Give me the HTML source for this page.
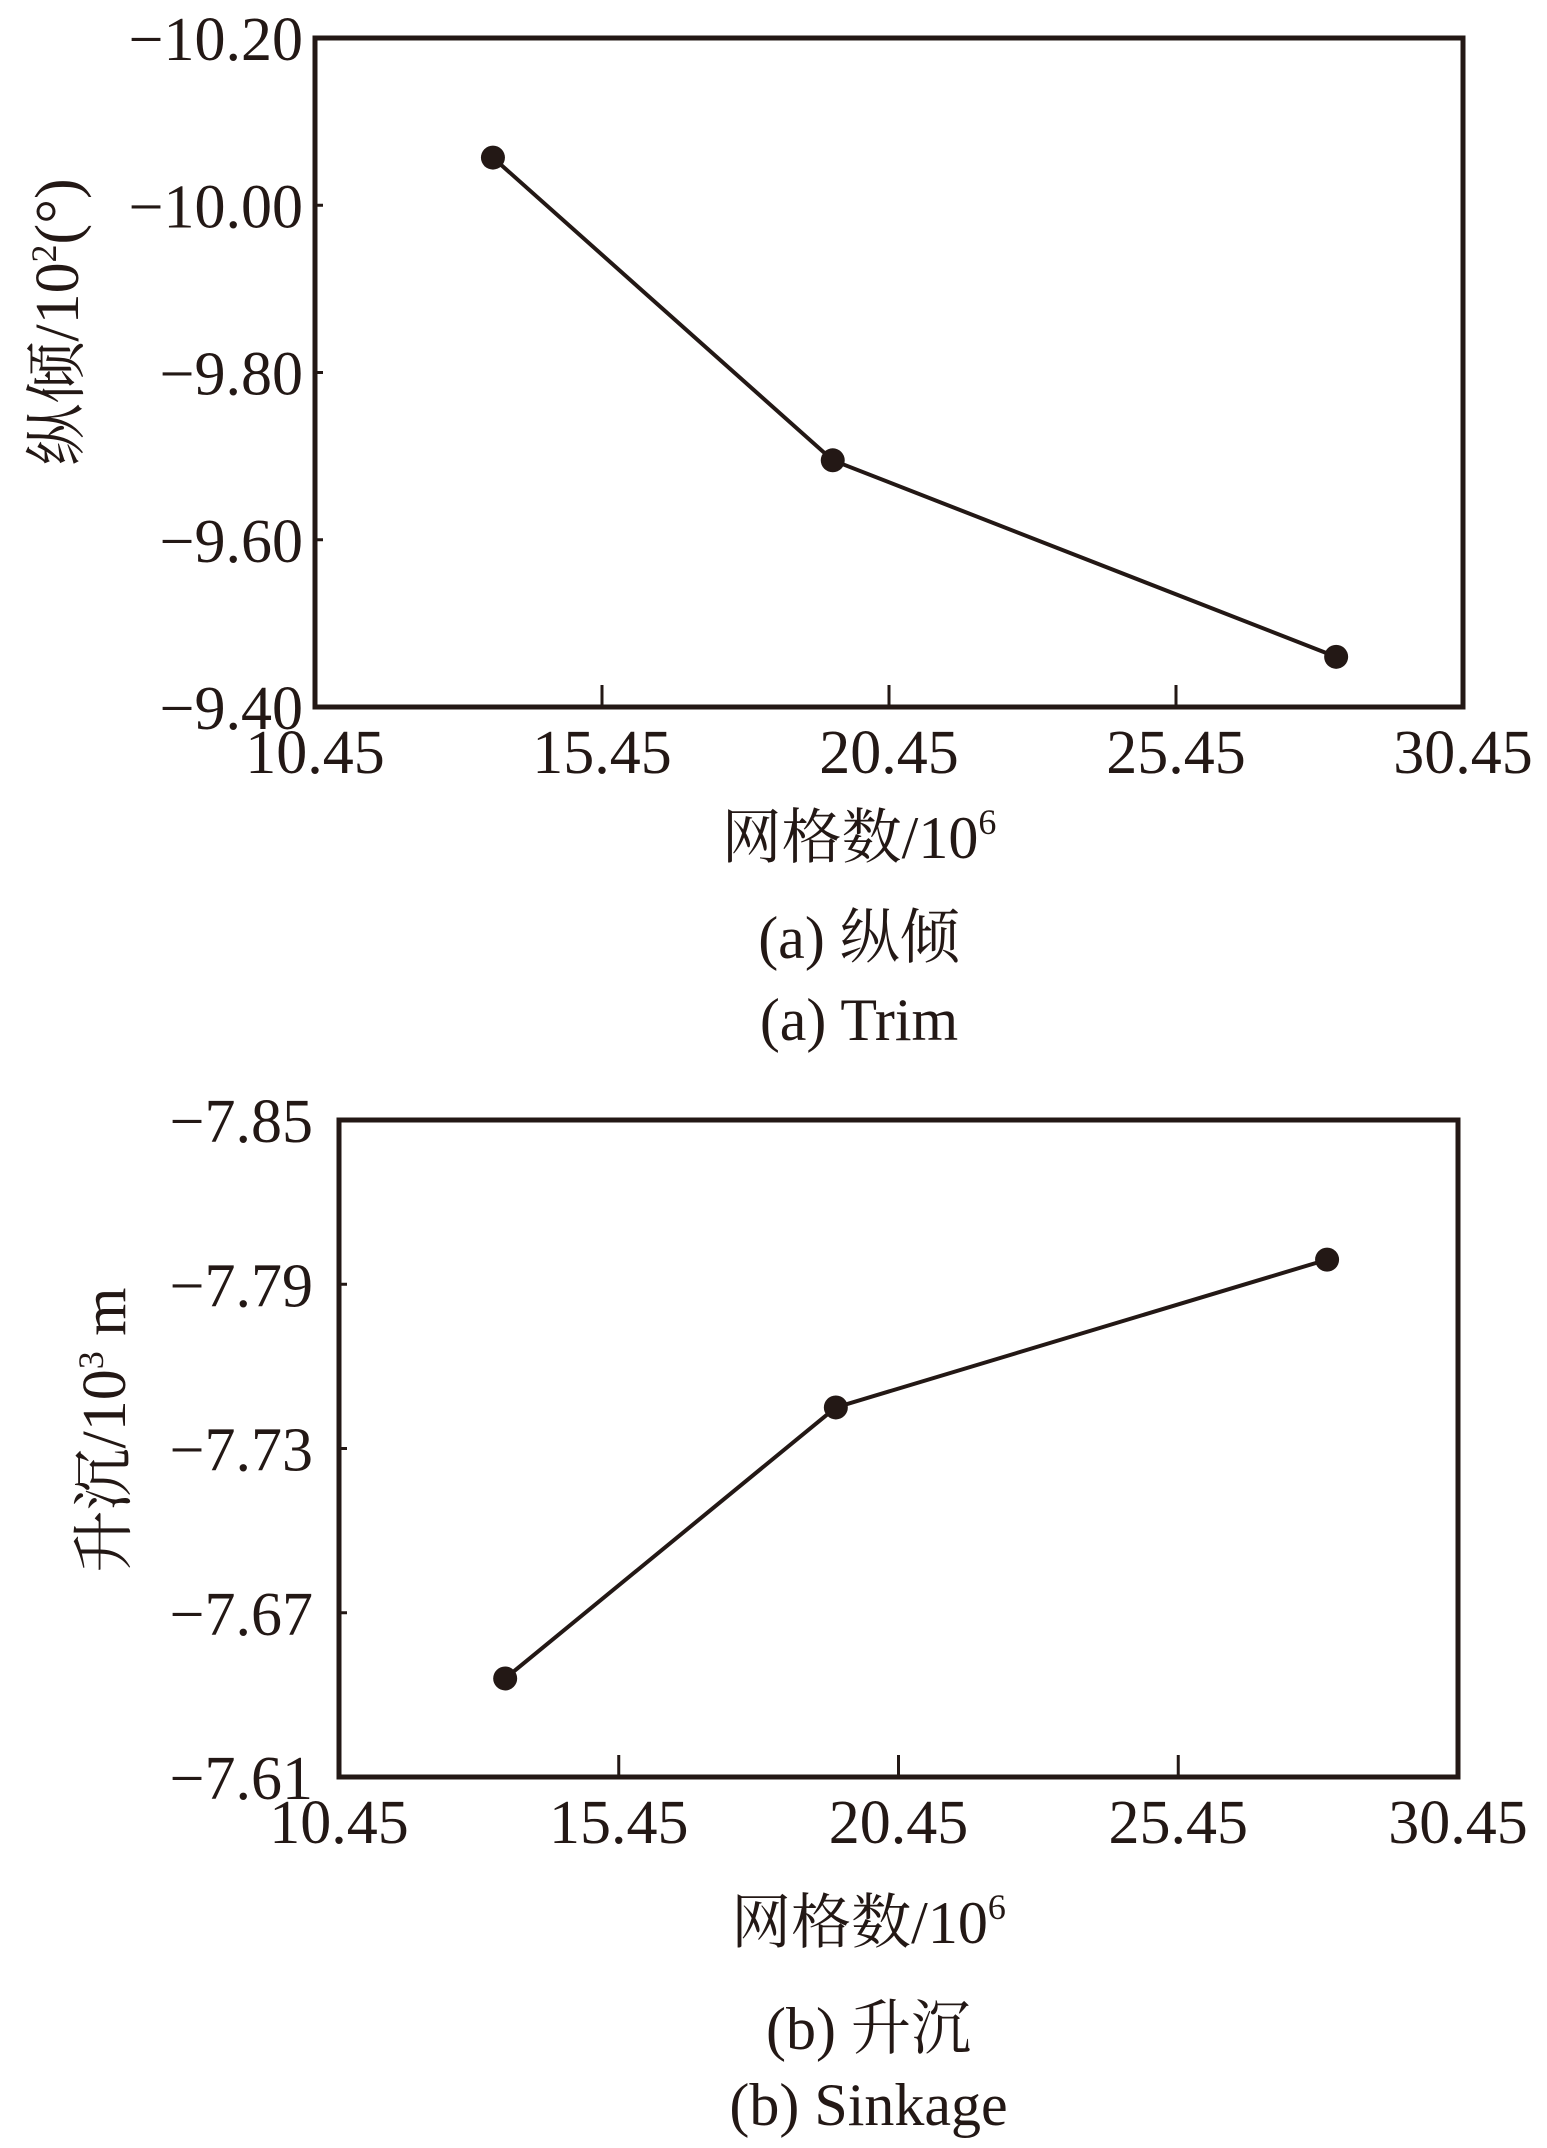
<!DOCTYPE html>
<html><head><meta charset="utf-8"><style>
html,body{margin:0;padding:0;background:#fff;}
svg{display:block;}
text{font-family:"Liberation Serif","Noto Serif CJK SC","Noto Sans CJK SC",serif;fill:#231815;}
</style></head><body>
<svg id="chart" width="1547" height="2148" viewBox="0 0 1547 2148" xmlns="http://www.w3.org/2000/svg"></svg>
<script>
const xTicks = [10.45, 15.45, 20.45, 25.45, 30.45];
const xTickLabels = ["10.45", "15.45", "20.45", "25.45", "30.45"];
const trimX = [13.55, 19.47, 28.24];
const trimY = [-10.057, -9.695, -9.46];
const trimTicks = [-10.20, -10.00, -9.80, -9.60, -9.40];
const trimTickLabels = ["\u221210.20", "\u221210.00", "\u22129.80", "\u22129.60", "\u22129.40"];
const sinkX = [13.42, 19.33, 28.11];
const sinkY = [-7.646, -7.745, -7.799];
const sinkTicks = [-7.85, -7.79, -7.73, -7.67, -7.61];
const sinkTickLabels = ["\u22127.85", "\u22127.79", "\u22127.73", "\u22127.67", "\u22127.61"];

const NS = "http://www.w3.org/2000/svg";
const svg = document.getElementById("chart");
function mk(tag, attrs, parent, txt) {
  const e = document.createElementNS(NS, tag);
  for (const k in attrs) e.setAttribute(k, attrs[k]);
  if (txt !== undefined) e.textContent = txt;
  (parent || svg).appendChild(e);
  return e;
}

function panel(cfg) {
  const g = mk("g", {});
  
  
  const L = cfg.left, R = cfg.right, T = cfg.top, B = cfg.bottom;
  const xs = v => L + (v - xTicks[0]) / (xTicks[xTicks.length - 1] - xTicks[0]) * (R - L);
  const y0 = cfg.yTicks[0], y1 = cfg.yTicks[cfg.yTicks.length - 1];
  const ys = v => T + (v - y0) / (y1 - y0) * (B - T);

  const box = mk("rect", {x: L, y: T, width: R - L, height: B - T, fill: "none", stroke: "#231815", "stroke-width": 5}, g);
  
  

  xTicks.forEach((v, i) => {
    if (i > 0 && i < xTicks.length - 1) {
      const t = mk("line", {x1: xs(v), x2: xs(v), y1: B, y2: B - 22, stroke: "#231815", "stroke-width": 3}, g);
      
      
    }
    const lb = mk("text", {x: xs(v), y: B + 66, "font-size": 62, "text-anchor": "middle"}, g, xTickLabels[i]);
    
    
  });
  cfg.yTicks.forEach((v, i) => {
    if (i > 0 && i < cfg.yTicks.length - 1) {
      const t = mk("line", {x1: L, x2: L + 8, y1: ys(v), y2: ys(v), stroke: "#231815", "stroke-width": 3}, g);
      
      
    }
    const lb = mk("text", {x: cfg.labelRight, y: ys(v) + 22, "font-size": 62, "text-anchor": "end"}, g, cfg.yLabels[i]);
    
    
  });

  const pts = cfg.xs.map((x, i) => xs(x) + "," + ys(cfg.ys[i])).join(" ");
  const line = mk("polyline", {points: pts, fill: "none", stroke: "#231815", "stroke-width": 4}, g);
  
  
  cfg.xs.forEach((x, i) => {
    const c = mk("circle", {cx: xs(x), cy: ys(cfg.ys[i]), r: 12, fill: "#231815"}, g);
    
    
  });

  const yt = mk("text", {x: 0, y: 0, "font-size": 62, "text-anchor": "middle", transform: "translate(" + cfg.yTitleX + "," + cfg.yTitleY + ") rotate(-90)"}, g);
  
  
  yt.innerHTML = cfg.yTitle;

  const cx = (L + R) / 2 - 30;
  const xt = mk("text", {x: cx, y: cfg.xTitleY, "font-size": 60, "text-anchor": "middle"}, g);
  
  
  xt.innerHTML = '网格数/10<tspan font-size="36" dy="-24">6</tspan>';

  const c1 = mk("text", {x: cx, y: cfg.cap1Y, "font-size": 60, "text-anchor": "middle"}, g, cfg.cap1);
  
  
  const c2 = mk("text", {x: cx, y: cfg.cap2Y, "font-size": 60, "text-anchor": "middle"}, g, cfg.cap2);
  
  
}

panel({name: "trim-chart", left: 315, right: 1463, top: 38, bottom: 707, yTicks: trimTicks, yLabels: trimTickLabels,
  xs: trimX, ys: trimY, labelRight: 303, yTitleX: 78, yTitleY: 322,
  yTitle: '纵倾/10<tspan font-size="36" dy="-22">2</tspan><tspan dy="22">(°)</tspan>',
  xTitleY: 858, cap1: "(a) 纵倾", cap1Y: 958, cap2: "(a) Trim", cap2Y: 1040});
panel({name: "sinkage-chart", left: 339, right: 1458, top: 1120, bottom: 1777, yTicks: sinkTicks, yLabels: sinkTickLabels,
  xs: sinkX, ys: sinkY, labelRight: 313, yTitleX: 125, yTitleY: 1430,
  yTitle: '升沉/10<tspan font-size="36" dy="-22">3</tspan><tspan dy="22"> m</tspan>',
  xTitleY: 1943, cap1: "(b) 升沉", cap1Y: 2049, cap2: "(b) Sinkage", cap2Y: 2125});
</script>
</body></html>
